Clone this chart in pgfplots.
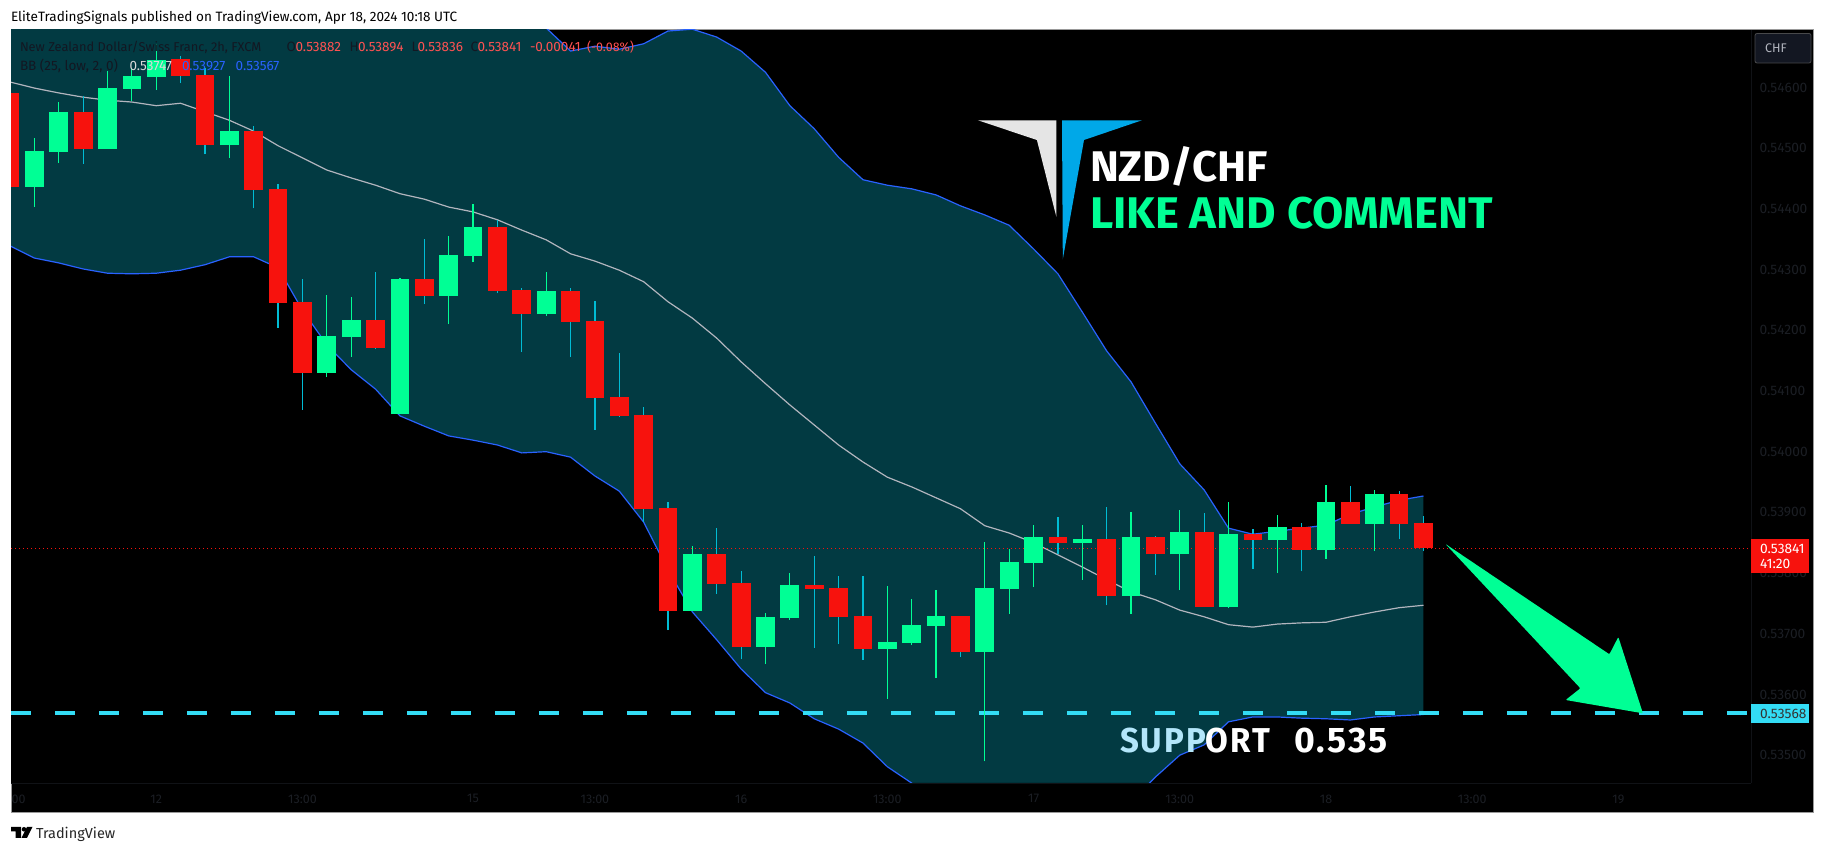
\documentclass[border=0pt]{standalone}
\usepackage{fontspec}
\setmainfont{Fira Sans}
\newfontfamily\spaced[LetterSpace=6]{Fira Sans}
\usepackage{graphicx}
\usepackage{pgfplots}
\usepackage{pgfplotstable}
\pgfplotsset{compat=1.18}
\definecolor{upc}{HTML}{00FF95}
\definecolor{dnc}{HTML}{F7120D}
\definecolor{wickdn}{HTML}{00BCD4}
\definecolor{bandc}{HTML}{023A42}
\definecolor{bbblue}{HTML}{2962FF}
\definecolor{midc}{HTML}{B2B5BE}
\definecolor{supc}{HTML}{33DCF5}
\definecolor{tickc}{HTML}{1B1E24}
\definecolor{legdark}{HTML}{131722}
\definecolor{legred}{HTML}{FF5252}
\definecolor{sepc}{HTML}{101216}
\definecolor{logob}{HTML}{00A8E8}

\pgfplotstableread{
i o h l c
-1 0.54591 0.54591 0.54436 0.54436
2 0.54560 0.54586 0.54474 0.54499
6 0.54647 0.54652 0.54607 0.54619
7 0.54621 0.54632 0.54490 0.54505
9 0.54528 0.54537 0.54401 0.54431
10 0.54433 0.54441 0.54204 0.54245
11 0.54247 0.54285 0.54069 0.54130
14 0.54217 0.54296 0.54169 0.54171
16 0.54285 0.54350 0.54243 0.54257
19 0.54370 0.54382 0.54261 0.54265
20 0.54266 0.54270 0.54164 0.54227
22 0.54265 0.54270 0.54156 0.54214
23 0.54215 0.54248 0.54036 0.54088
24 0.54090 0.54163 0.54057 0.54059
25 0.54060 0.54074 0.53884 0.53906
26 0.53907 0.53917 0.53706 0.53738
28 0.53831 0.53874 0.53766 0.53782
29 0.53784 0.53803 0.53658 0.53678
32 0.53780 0.53828 0.53677 0.53774
33 0.53775 0.53795 0.53683 0.53728
34 0.53729 0.53795 0.53657 0.53675
38 0.53729 0.53729 0.53662 0.53670
42 0.53859 0.53892 0.53831 0.53850
44 0.53856 0.53909 0.53747 0.53762
46 0.53859 0.53861 0.53797 0.53831
48 0.53868 0.53899 0.53744 0.53744
50 0.53864 0.53873 0.53807 0.53855
52 0.53876 0.53883 0.53803 0.53838
54 0.53917 0.53944 0.53881 0.53881
56 0.53930 0.53935 0.53856 0.53881
57 0.53882 0.53894 0.53836 0.53841
}\redT

\pgfplotstableread{
i o h l c
0 0.54436 0.54517 0.54403 0.54495
1 0.54494 0.54576 0.54476 0.54560
3 0.54499 0.54627 0.54499 0.54599
4 0.54598 0.54632 0.54578 0.54619
5 0.54617 0.54672 0.54596 0.54645
8 0.54505 0.54619 0.54484 0.54528
12 0.54130 0.54258 0.54123 0.54191
13 0.54189 0.54255 0.54156 0.54217
15 0.54062 0.54286 0.54062 0.54285
17 0.54257 0.54355 0.54210 0.54324
18 0.54322 0.54408 0.54313 0.54370
21 0.54227 0.54296 0.54224 0.54265
27 0.53738 0.53845 0.53738 0.53831
30 0.53678 0.53734 0.53650 0.53728
31 0.53726 0.53800 0.53723 0.53780
35 0.53675 0.53779 0.53593 0.53687
36 0.53685 0.53757 0.53682 0.53715
37 0.53713 0.53772 0.53627 0.53729
39 0.53670 0.53851 0.53490 0.53775
40 0.53774 0.53840 0.53733 0.53818
41 0.53817 0.53879 0.53777 0.53859
43 0.53850 0.53879 0.53789 0.53856
45 0.53762 0.53901 0.53733 0.53859
47 0.53831 0.53904 0.53772 0.53868
49 0.53744 0.53917 0.53743 0.53864
51 0.53855 0.53896 0.53800 0.53876
53 0.53838 0.53945 0.53823 0.53917
55 0.53881 0.53937 0.53836 0.53930
}\greenT

\pgfplotstableread{
i up mid low
-1 0.54879 0.54609 0.54339
0 0.54879 0.54599 0.54319
1 0.54871 0.54591 0.54311
2 0.54866 0.54584 0.54301
3 0.54864 0.54579 0.54294
4 0.54859 0.54576 0.54293
5 0.54845 0.54570 0.54294
6 0.54848 0.54574 0.54299
7 0.54812 0.54560 0.54308
8 0.54772 0.54546 0.54321
9 0.54736 0.54528 0.54321
10 0.54705 0.54504 0.54303
11 0.54734 0.54484 0.54233
12 0.54752 0.54464 0.54176
13 0.54767 0.54451 0.54135
14 0.54775 0.54439 0.54103
15 0.54790 0.54425 0.54059
16 0.54790 0.54416 0.54042
17 0.54780 0.54403 0.54026
18 0.54770 0.54395 0.54019
19 0.54752 0.54382 0.54011
20 0.54733 0.54365 0.53998
21 0.54698 0.54349 0.54000
22 0.54660 0.54326 0.53991
23 0.54668 0.54314 0.53960
24 0.54663 0.54299 0.53935
25 0.54672 0.54280 0.53884
26 0.54693 0.54247 0.53805
27 0.54696 0.54220 0.53736
28 0.54683 0.54187 0.53690
29 0.54660 0.54148 0.53642
30 0.54625 0.54112 0.53603
31 0.54570 0.54077 0.53586
32 0.54532 0.54044 0.53560
33 0.54485 0.54011 0.53543
34 0.54448 0.53983 0.53520
35 0.54439 0.53958 0.53481
36 0.54433 0.53942 0.53454
37 0.54423 0.53924 0.53426
38 0.54405 0.53906 0.53406
39 0.54390 0.53878 0.53365
40 0.54373 0.53866 0.53359
41 0.54334 0.53850 0.53365
42 0.54293 0.53830 0.53367
43 0.54230 0.53810 0.53390
44 0.54166 0.53789 0.53411
45 0.54115 0.53769 0.53423
46 0.54047 0.53756 0.53464
47 0.53980 0.53739 0.53500
48 0.53937 0.53728 0.53517
49 0.53874 0.53715 0.53555
50 0.53864 0.53711 0.53563
51 0.53869 0.53716 0.53563
52 0.53874 0.53718 0.53561
53 0.53879 0.53719 0.53560
54 0.53897 0.53728 0.53558
55 0.53909 0.53736 0.53563
56 0.53920 0.53743 0.53565
57 0.53927 0.53747 0.53567
}\bbT

\newcommand{\sz}[1]{\fontsize{#1}{#1}\selectfont}

\begin{document}
\begin{tikzpicture}
\path[use as bounding box, fill=white] (0pt,0pt) rectangle (1825pt,853pt);
\begin{scope}[x=1pt,y=-1pt,shift={(0pt,853pt)}]
\fill[black] (11,30) rectangle (1813,813);
\draw[line width=1pt,color=gray!80] (11,813) -- (11,30) -- (1813,30) -- (1813,813) -- (11,813);
\end{scope}

\begin{axis}[
  at={(11pt,70pt)}, anchor=south west,
  width=1740pt, height=753pt, scale only axis,
  xmin=-0.96, xmax=70.44,
  ymin=0.534542, ymax=0.546947,
  axis line style={draw=sepc, line width=0.8pt},
  axis x line*=bottom, axis y line*=right,
  tickwidth=0pt,
  scaled y ticks=false,
  ytick={0.535,0.536,0.537,0.538,0.539,0.540,0.541,0.542,0.543,0.544,0.545,0.546},
  xtick={-0.65,5,11,18,23,29,35,41,47,53,59,65},
  xticklabels={00,12,13:00,15,13:00,16,13:00,17,13:00,18,13:00,19},
  tick label style={text=tickc},
  yticklabel style={font=\sz{13.75}, xshift=5pt, /pgf/number format/fixed, /pgf/number format/fixed zerofill, /pgf/number format/precision=5, /pgf/number format/assume math mode=true},
  xticklabel style={font=\sz{12.5}, yshift=-8pt},
  clip=true,
]
% band: the teal area under the upper line, then black under the lower line
\addplot[fill=bandc, draw=none] table[x=i,y=up] \bbT \closedcycle;
\addplot[fill=black, draw=none] table[x=i,y=low] \bbT \closedcycle;
\addplot[fill=black, draw=none] coordinates {(56.9,0.53566) (57.3,0.53566)} \closedcycle;
\addplot[color=bbblue, line width=1.2pt] table[x=i,y=up] \bbT;
\addplot[color=bbblue, line width=1.2pt] table[x=i,y=low] \bbT;
\addplot[color=midc, line width=1.2pt] table[x=i,y=mid] \bbT;

\addplot[color=supc, line width=4pt, dash pattern=on 20pt off 24pt] coordinates {(-0.96,0.5357) (70.44,0.5357)};
\addplot[color=dnc, line width=0.8pt, dash pattern=on 1.3pt off 2.7pt] coordinates {(-0.96,0.53841) (70.44,0.53841)};

\addplot[draw=none, mark=none, error bars/.cd, y dir=plus, y explicit, error mark=none,
  error bar style={line width=1.2pt, draw=wickdn}] table[x=i, y=l, y error expr=\thisrow{h}-\thisrow{l}] \redT;
\addplot[draw=none, mark=none, error bars/.cd, y dir=plus, y explicit, error mark=none,
  error bar style={line width=1.2pt, draw=upc}] table[x=i, y=l, y error expr=\thisrow{h}-\thisrow{l}] \greenT;
\addplot[draw=none, mark=none, error bars/.cd, y dir=plus, y explicit, error mark=none,
  error bar style={line width=18.75pt, draw=dnc}] table[x=i, y=c, y error expr=\thisrow{o}-\thisrow{c}] \redT;
\addplot[draw=none, mark=none, error bars/.cd, y dir=plus, y explicit, error mark=none,
  error bar style={line width=18.75pt, draw=upc}] table[x=i, y=o, y error expr=\thisrow{c}-\thisrow{o}] \greenT;
\end{axis}

\begin{scope}[x=1pt,y=-1pt,shift={(0pt,853pt)}, every node/.style={inner sep=0pt, outer sep=0pt}]
% header
\node[anchor=west, text=black] at (11,17.5) {\sz{13.55}EliteTradingSignals published on TradingView.com, Apr 18, 2024 10:18 UTC};
% legend
\node[anchor=west, text=legdark] at (20,47) {\sz{12.8}New Zealand Dollar/Swiss Franc, 2h, FXCM};
\node[anchor=west, text=legdark] at (286.5,47) {\sz{13.5}O};
\node[anchor=west, text=legred] at (295.5,47) {\sz{13.5}0.53882};
\node[anchor=west, text=legdark] at (349.5,47) {\sz{13.5}H};
\node[anchor=west, text=legred] at (358,47) {\sz{13.5}0.53894};
\node[anchor=west, text=legdark] at (411.5,47) {\sz{13.5}L};
\node[anchor=west, text=legred] at (417.5,47) {\sz{13.5}0.53836};
\node[anchor=west, text=legdark] at (470.5,47) {\sz{13.5}C};
\node[anchor=west, text=legred] at (477.5,47) {\sz{13.5}0.53841};
\node[anchor=west, text=legred] at (530,47) {\sz{13.5}-0.00041};
\node[anchor=west, text=legred] at (587,47) {\sz{12.5}(-0.08\%)};
\node[anchor=west, text=legdark] at (20,65.7) {\sz{13.5}BB (25, low, 2, 0)};
\node[anchor=west, text=white!85!black] at (129.5,65.7) {\sz{13.5}0.53747};
\node[anchor=west, text=bbblue] at (182,65.7) {\sz{13.5}0.53927};
\node[anchor=west, text=bbblue] at (235.7,65.7) {\sz{13.5}0.53567};
% logo
\fill[white!90!black] (977.9,120.3) -- (1056.3,120.3) -- (1056.3,216.7) -- (1036.9,140) -- cycle;
\fill[logob] (1062,120.3) -- (1141.9,120.3) -- (1084,140) -- (1062.8,259.3) -- cycle;
\node[anchor=base west, text=white] at (1090,181.7) {\resizebox{178pt}{35pt}{\sz{46}\bfseries NZD/CHF}};
\node[anchor=base west, text=upc] at (1090,229) {\resizebox{403pt}{31.5pt}{\sz{45}\bfseries LIKE AND COMMENT}};
% support text
\node[anchor=base west, text=white] at (1120,753) {\resizebox{150pt}{24.5pt}{\spaced\sz{35}\bfseries{\color{cyan!30!white}SUPP}ORT}};
\node[anchor=base west, text=white] at (1294,753) {\resizebox{94pt}{24.5pt}{\spaced\sz{35}\bfseries 0.535}};
% arrow
\fill[upc, rounded corners=1pt] (1445.5,544) -- (1609.4,654.3) -- (1618.3,637) -- (1642.9,713.3) -- (1565.6,700) -- (1580.4,688.3) -- cycle;
% price tags
\fill[dnc] (1751,539) rectangle (1809,573);
\node[anchor=west, text=white] at (1760,548.5) {\sz{13.75}0.53841};
\node[anchor=west, text=white] at (1760,564) {\sz{13.75}41:20};
\fill[supc] (1751,704) rectangle (1809,723);
\node[anchor=west, text=black!80] at (1760,713.5) {\sz{13.75}0.53568};
% currency button
\draw[fill=legdark, draw=sepc!50!gray, line width=0.8pt, rounded corners=2pt] (1755,33.5) rectangle (1811,63);
\node[anchor=west, text=midc] at (1765,48.5) {\sz{12.5}CHF};
% TradingView mark
\fill[black] (11,827) -- (21,827) -- (21,838) -- (15.5,838) -- (15.5,831.5) -- (11,831.5) -- cycle;
\fill[black] (24,829.3) circle (2.3);
\fill[black] (27,827) -- (32.5,827) -- (27,838) -- (21.5,838) -- cycle;
\node[anchor=west, text=black!85] at (36,834) {\sz{14.5}TradingView};
\end{scope}
\end{tikzpicture}
\end{document}
